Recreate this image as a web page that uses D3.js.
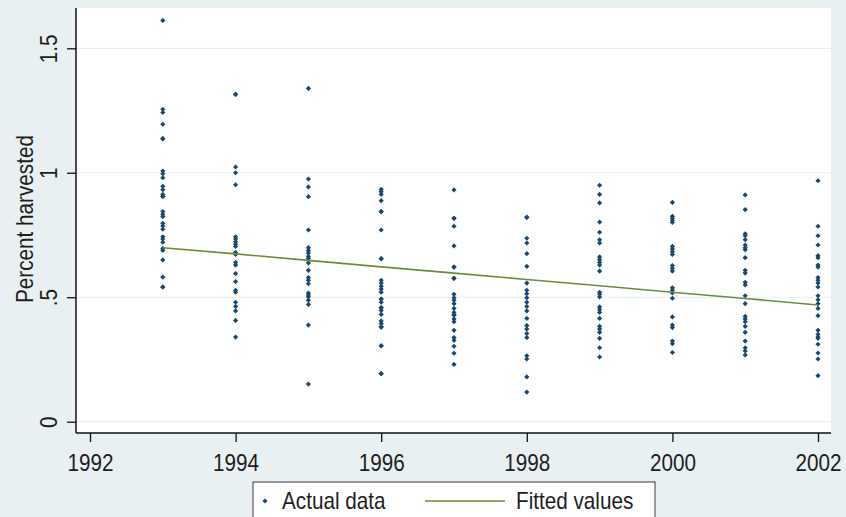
<!DOCTYPE html>
<html>
<head>
<meta charset="utf-8">
<script src="https://cdn.jsdelivr.net/npm/d3@7"></script>
<style>
  html, body { margin: 0; padding: 0; background: #e8f0f2; }
  svg { display: block; }
  text { font-family: "Liberation Sans", Arial, sans-serif; fill: #1e1e1e; }
</style>
</head>
<body>
<svg id="chart" width="846" height="517"></svg>
<script>
// ---------------- DATA ----------------
const years = [1993, 1994, 1995, 1996, 1997, 1998, 1999, 2000, 2001, 2002];

const pct1993 = [1.612, 1.255, 1.242, 1.195, 1.137, 1.137, 1.007, 0.996, 0.980, 0.946, 0.932, 0.913, 0.905, 0.905,
  0.844, 0.833, 0.824, 0.797, 0.786, 0.773, 0.743, 0.734, 0.721, 0.696, 0.688, 0.650, 0.581, 0.541, 0.541];
const pct1994 = [1.315, 1.315, 1.023, 1.000, 0.952, 0.743, 0.734, 0.723, 0.713, 0.704, 0.680, 0.672, 0.640, 0.629,
  0.595, 0.563, 0.528, 0.520, 0.480, 0.463, 0.445, 0.407, 0.340];
const pct1995 = [1.339, 0.975, 0.943, 0.904, 0.770, 0.699, 0.688, 0.678, 0.664, 0.656, 0.638, 0.608, 0.579, 0.568,
  0.554, 0.517, 0.509, 0.501, 0.488, 0.471, 0.388, 0.151];
const pct1996 = [0.933, 0.924, 0.913, 0.888, 0.844, 0.844, 0.770, 0.655, 0.655, 0.568, 0.557, 0.544, 0.533, 0.520,
  0.493, 0.493, 0.480, 0.458, 0.458, 0.447, 0.431, 0.405, 0.394, 0.380, 0.380, 0.305, 0.305, 0.193, 0.193];
const pct1997 = [0.931, 0.817, 0.817, 0.785, 0.706, 0.621, 0.621, 0.576, 0.576, 0.512, 0.498, 0.488, 0.474, 0.455,
  0.439, 0.429, 0.429, 0.413, 0.402, 0.367, 0.338, 0.327, 0.303, 0.275, 0.230];
const pct1998 = [0.821, 0.821, 0.737, 0.718, 0.675, 0.624, 0.557, 0.528, 0.514, 0.498, 0.480, 0.463, 0.445, 0.415,
  0.386, 0.372, 0.354, 0.338, 0.265, 0.252, 0.180, 0.119];
const pct1999 = [0.950, 0.913, 0.879, 0.802, 0.761, 0.731, 0.718, 0.662, 0.651, 0.640, 0.629, 0.605, 0.520, 0.512,
  0.501, 0.461, 0.450, 0.439, 0.415, 0.383, 0.372, 0.359, 0.335, 0.297, 0.260];
const pct2000 = [0.881, 0.825, 0.817, 0.809, 0.801, 0.704, 0.694, 0.683, 0.672, 0.627, 0.616, 0.605, 0.538, 0.528,
  0.517, 0.496, 0.421, 0.388, 0.378, 0.324, 0.313, 0.278];
const pct2001 = [0.911, 0.852, 0.755, 0.747, 0.731, 0.710, 0.699, 0.691, 0.659, 0.608, 0.597, 0.560, 0.549, 0.506,
  0.474, 0.423, 0.413, 0.402, 0.383, 0.359, 0.324, 0.297, 0.284, 0.268];
const pct2002 = [0.968, 0.785, 0.747, 0.710, 0.667, 0.659, 0.629, 0.621, 0.579, 0.568, 0.557, 0.541, 0.506, 0.490,
  0.474, 0.455, 0.426, 0.367, 0.351, 0.340, 0.335, 0.311, 0.276, 0.252, 0.185];

const actualByYear = [pct1993, pct1994, pct1995, pct1996, pct1997, pct1998, pct1999, pct2000, pct2001, pct2002];

const fittedValues = [0.699, 0.674, 0.648, 0.622, 0.597, 0.571, 0.546, 0.520, 0.495, 0.469];

const xTicks = [1992, 1994, 1996, 1998, 2000, 2002];
const yTicks = [0, 0.5, 1, 1.5];
const yTickLabels = ["0", ".5", "1", "1.5"];

const yTitle = "Percent harvested";
const legendLabels = ["Actual data", "Fitted values"];

// ---------------- LAYOUT ----------------
const svg = d3.select("#chart");
const W = 846, H = 517;
const plot = { left: 76, right: 831, top: 8, bottom: 433 };
const navy = "#1a476f";
const green = "#6a8c3a";
const textSquash = 0.9;

svg.append("rect").attr("width", W).attr("height", H).attr("fill", "#e8f0f2");
svg.append("rect")
  .attr("x", plot.left).attr("y", plot.top)
  .attr("width", plot.right - plot.left).attr("height", plot.bottom - plot.top)
  .attr("fill", "#ffffff");

const x = d3.scaleLinear().domain([1992, 2002]).range([90, 818]);
const y = d3.scaleLinear().domain([0, 1.5]).range([421.7, 48.3]);

// grid lines
svg.append("g").selectAll("line").data(yTicks).join("line")
  .attr("x1", plot.left).attr("x2", plot.right)
  .attr("y1", d => y(d)).attr("y2", d => y(d))
  .attr("stroke", "#e6eff1").attr("stroke-width", 1.2);

// points
const pts = [];
years.forEach((yr, i) => actualByYear[i].forEach(v => pts.push({ yr, v })));
const diamond = d3.symbol().type(d3.symbolDiamond2).size(17);
svg.append("g").selectAll("path").data(pts).join("path")
  .attr("d", diamond)
  .attr("transform", d => `translate(${x(d.yr)},${y(d.v)})`)
  .attr("fill", navy);

// fitted line
const line = d3.line().x((d, i) => x(years[i])).y(d => y(d));
svg.append("path").datum(fittedValues)
  .attr("d", line)
  .attr("fill", "none")
  .attr("stroke", green)
  .attr("stroke-width", 1.6);

// x axis
const xAxis = svg.append("g")
  .attr("transform", `translate(0,${plot.bottom})`)
  .call(d3.axisBottom(x).tickValues(xTicks).tickFormat(d3.format("d")).tickSize(9).tickSizeOuter(0));
xAxis.select(".domain").attr("d", `M${plot.left},0H${plot.right}`).attr("stroke", "#111").attr("stroke-width", 1.5);
xAxis.selectAll(".tick line").attr("stroke", "#111").attr("stroke-width", 1.3);
xAxis.selectAll(".tick text")
  .attr("y", 0).attr("dy", null)
  .attr("transform", `translate(0,38) scale(${textSquash},1)`)
  .style("font-size", "23px").style("font-family", "'Liberation Sans', Arial, sans-serif")
  .attr("fill", "#1e1e1e");

// y axis
const yAxis = svg.append("g")
  .attr("transform", `translate(${plot.left},0)`)
  .call(d3.axisLeft(y).tickValues(yTicks).tickFormat((d, i) => yTickLabels[i]).tickSize(9).tickSizeOuter(0));
yAxis.select(".domain").attr("d", `M0,${plot.top}V${plot.bottom}`).attr("stroke", "#111").attr("stroke-width", 1.5);
yAxis.selectAll(".tick line").attr("stroke", "#111").attr("stroke-width", 1.3);
yAxis.selectAll(".tick text")
  .attr("x", 0).attr("dy", null).attr("text-anchor", "middle")
  .attr("transform", `translate(-19,0) rotate(-90) scale(${textSquash},1)`)
  .style("font-size", "23px").style("font-family", "'Liberation Sans', Arial, sans-serif")
  .attr("fill", "#1e1e1e");

// y title
svg.append("text")
  .attr("transform", `translate(33,219) rotate(-90) scale(${textSquash},1)`)
  .attr("text-anchor", "middle")
  .style("font-size", "23px")
  .text(yTitle);

// legend
const lg = svg.append("g");
lg.append("rect").attr("x", 253).attr("y", 482).attr("width", 402).attr("height", 45)
  .attr("fill", "#ffffff").attr("stroke", "#3a3a3a").attr("stroke-width", 1);
lg.append("path").attr("d", diamond).attr("transform", "translate(265,501)").attr("fill", navy);
lg.append("text").attr("transform", `translate(282,509) scale(${textSquash},1)`)
  .style("font-size", "23px").text(legendLabels[0]);
lg.append("line").attr("x1", 425).attr("x2", 505).attr("y1", 501).attr("y2", 501)
  .attr("stroke", green).attr("stroke-width", 1.6);
lg.append("text").attr("transform", `translate(516,509) scale(${textSquash},1)`)
  .style("font-size", "23px").text(legendLabels[1]);
</script>
</body>
</html>
